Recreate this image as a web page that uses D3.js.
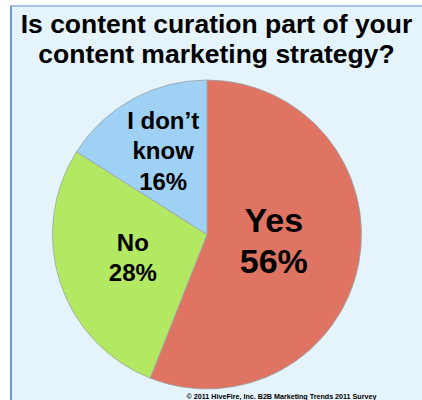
<!DOCTYPE html>
<html>
<head>
<meta charset="utf-8">
<script src="https://cdn.jsdelivr.net/npm/d3@7"></script>
<style>
  html, body { margin: 0; padding: 0; background: #ffffff; }
  svg { display: block; }
  text { font-family: "Liberation Sans", Arial, sans-serif; font-weight: bold; fill: #000; }
</style>
</head>
<body>
<svg id="chart" width="422" height="400"></svg>
<script>
// Survey answers, in clockwise order from twelve o'clock
const categories = ["Yes", "No", "I don\u2019t know"];
const shares = [56, 28, 16];
const labelLines = [["Yes", "56%"], ["No", "28%"], ["I don\u2019t", "know", "16%"]];
const titleLines = ["Is content curation part of your", "content marketing strategy?"];
const footnote = "\u00a9 2011 HiveFire, Inc. B2B Marketing Trends 2011 Survey";

// Look of each slice and its label
const sliceColors = { "Yes": "#e07462", "No": "#b3e862", "I don\u2019t know": "#9fd1f4" };
const labelStyle = {
  "Yes":            { r: 68, dy: -6.5, size: 34, lh: 41 },
  "No":             { r: 78, dy: -1,   size: 24, lh: 30 },
  "I don\u2019t know": { r: 91, dy: -4,   size: 24, lh: 30.5 }
};

const W = 422, H = 400;
const svg = d3.select("#chart");

// Panel: pale blue fill with a blue rule on the top and left
svg.append("rect").attr("x", 11).attr("y", 6).attr("width", W).attr("height", H)
  .attr("fill", "#e5f4fa");
svg.append("line").attr("x1", 11).attr("x2", W).attr("y1", 6).attr("y2", 6)
  .attr("stroke", "#8fb4e0").attr("stroke-width", 1.5);
svg.append("line").attr("x1", 11).attr("x2", 11).attr("y1", 5.5).attr("y2", H)
  .attr("stroke", "#6a9bd3").attr("stroke-width", 2);

// Title
svg.append("text")
  .attr("text-anchor", "middle")
  .style("font-size", "26.5px")
  .selectAll("tspan").data(titleLines).join("tspan")
  .attr("x", 216.5)
  .attr("y", (d, i) => 33 + i * 30)
  .text(d => d);

// Pie
const cx = 207, cy = 234.5, radius = 154.5;
const data = categories.map((c, i) => ({ category: c, value: shares[i], lines: labelLines[i] }));
const pie = d3.pie().value(d => d.value).sort(null);
const arcs = pie(data);
const arc = d3.arc().innerRadius(0).outerRadius(radius);

const g = svg.append("g").attr("transform", `translate(${cx},${cy})`);
g.selectAll("path.slice").data(arcs).join("path")
  .attr("class", "slice")
  .attr("d", arc)
  .attr("fill", d => sliceColors[d.data.category])
  .attr("stroke", "#9aa3a8")
  .attr("stroke-width", 0.8)
  .attr("stroke-linejoin", "round");

// Slice labels
arcs.forEach(a => {
  const st = labelStyle[a.data.category];
  const [lx, ly] = d3.arc().innerRadius(st.r).outerRadius(st.r).centroid(a);
  const n = a.data.lines.length;
  const y0 = ly + st.dy - (n - 1) * st.lh / 2 + 0.35 * st.size;
  g.append("text")
    .attr("text-anchor", "middle")
    .style("font-size", st.size + "px")
    .selectAll("tspan").data(a.data.lines).join("tspan")
    .attr("x", lx)
    .attr("y", (d, i) => y0 + i * st.lh)
    .text(d => d);
});

// Source note
svg.append("text")
  .attr("x", 281.5).attr("y", 398.5)
  .attr("text-anchor", "middle")
  .style("font-size", "7.15px")
  .attr("fill", "#111")
  .text(footnote);
</script>
</body>
</html>
